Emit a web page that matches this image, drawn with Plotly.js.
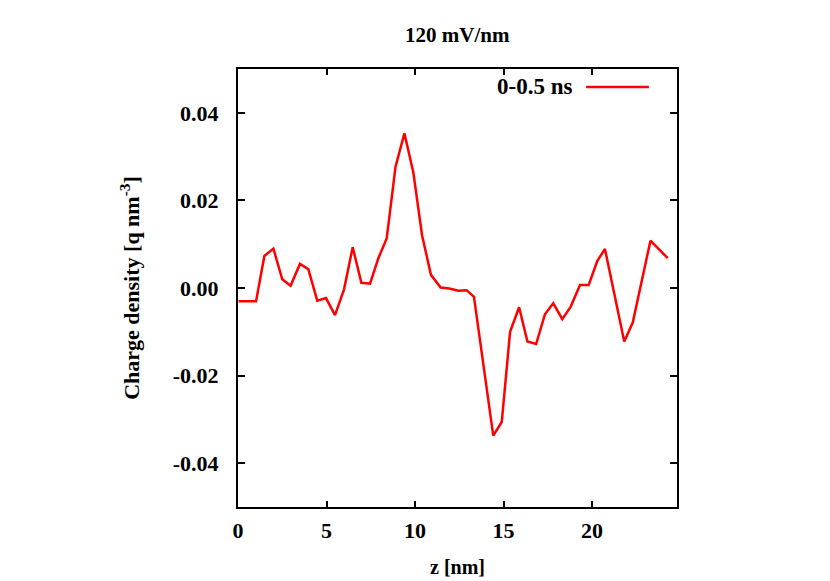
<!DOCTYPE html>
<html>
<head>
<meta charset="utf-8">
<script src="https://cdn.plot.ly/plotly-3.0.1.min.js"></script>
<style>html,body{margin:0;padding:0;background:#fff;}#chart{width:830px;height:581px;}</style>
</head>
<body>
<div id="chart"></div>
<script>
// z positions [nm]
var zNm = [0.03, 0.52, 1.02, 1.49, 2.0, 2.5, 2.97, 3.5, 3.97, 4.48, 4.97, 5.48, 5.99, 6.48, 6.97, 7.46, 7.93, 8.4, 8.9, 9.4, 9.9, 10.4, 10.9, 11.45, 11.94, 12.45, 12.92, 13.33, 13.9, 14.42, 14.9, 15.37, 15.88, 16.35, 16.84, 17.34, 17.81, 18.32, 18.79, 19.32, 19.81, 20.3, 20.73, 21.82, 22.3, 23.3, 24.28];
// charge density [q nm^-3], 0-0.5 ns
var rho = [-0.003, -0.003, -0.003, 0.0073, 0.009, 0.002, 0.0005, 0.0055, 0.0043, -0.0029, -0.0023, -0.0062, -0.0003, 0.0093, 0.0012, 0.001, 0.0068, 0.0113, 0.0277, 0.0353, 0.0265, 0.012, 0.003, 0.0001, -0.0001, -0.0006, -0.0005, -0.002, -0.018, -0.0337, -0.0306, -0.01, -0.0044, -0.0122, -0.0128, -0.006, -0.0035, -0.0071, -0.0043, 0.0007, 0.0007, 0.0062, 0.0089, -0.0122, -0.0079, 0.0108, 0.0068];
var seriesName = '0-0.5 ns';
var yTickVals = [-0.04, -0.02, 0.0, 0.02, 0.04];
var yTickText = ['-0.04', '-0.02', '0.00', '0.02', '0.04'];
var xTickVals = [0, 5, 10, 15, 20];
var xTickText = ['0', '5', '10', '15', '20'];

var FONT = 'Liberation Serif, Times New Roman, serif';
function F(s) { return {family: FONT, size: s, color: '#000', weight: 'bold'}; }

var trace = {
  x: zNm, y: rho, mode: 'lines', type: 'scatter', name: seriesName,
  line: {color: '#ff0000', width: 2.5}, showlegend: false
};

var layout = {
  width: 830, height: 581,
  paper_bgcolor: '#fff', plot_bgcolor: '#fff',
  margin: {l: 238, r: 153, t: 69, b: 74},
  font: F(22),
  title: {text: '120 mV/nm', font: F(21), x: 0.551, xanchor: 'center', y: 0.94, yanchor: 'middle'},
  xaxis: {
    range: [0, 24.8], tickvals: xTickVals, ticktext: xTickText,
    ticks: 'inside', ticklen: 6, tickwidth: 2, tickcolor: '#000',
    showline: true, linewidth: 2, linecolor: '#000', mirror: 'ticks',
    showgrid: false, zeroline: false, tickfont: F(22), ticklabelstandoff: 3,
    title: {text: 'z [nm]', font: F(20), standoff: 18}
  },
  yaxis: {
    range: [-0.05, 0.05], tickvals: yTickVals, ticktext: yTickText,
    ticks: 'inside', ticklen: 7, tickwidth: 2, tickcolor: '#000',
    showline: true, linewidth: 2, linecolor: '#000', mirror: 'ticks',
    showgrid: false, zeroline: false, tickfont: F(22), ticklabelstandoff: 13,
    title: {text: 'Charge density [q nm<sup>-3</sup>]', font: F(22), standoff: 27}
  },
  annotations: [{
    xref: 'paper', yref: 'paper', x: 0.765, y: 0.959, xanchor: 'right', yanchor: 'middle',
    text: seriesName, showarrow: false, font: F(23)
  }],
  shapes: [{
    type: 'line', xref: 'paper', yref: 'paper', x0: 0.793, x1: 0.936, y0: 0.959, y1: 0.959,
    line: {color: '#ff0000', width: 2.5}
  }]
};

Plotly.newPlot('chart', [trace], layout, {displayModeBar: false, staticPlot: true});
</script>
</body>
</html>
